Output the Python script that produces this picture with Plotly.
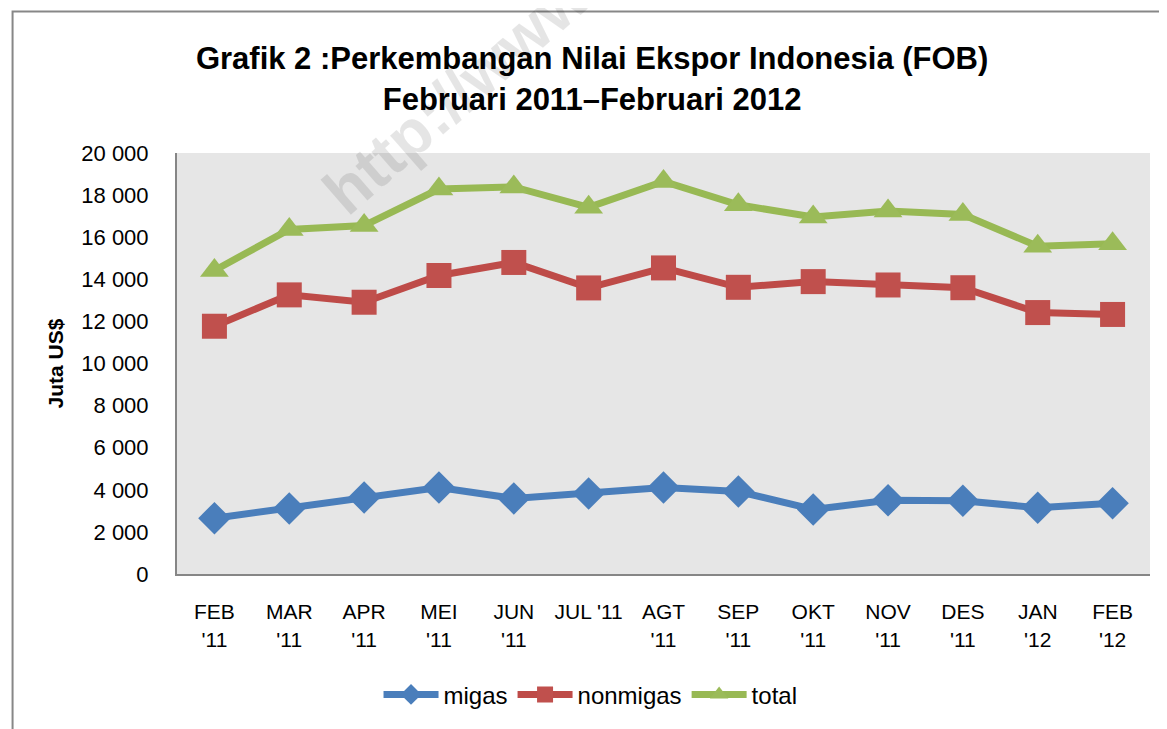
import plotly.graph_objects as go

categories = ["FEB<br>'11", "MAR<br>'11", "APR<br>'11", "MEI<br>'11", "JUN<br>'11", "JUL '11",
              "AGT<br>'11", "SEP<br>'11", "OKT<br>'11", "NOV<br>'11", "DES<br>'11", "JAN<br>'12", "FEB<br>'12"]
migas = [2650, 3110, 3640, 4110, 3590, 3830, 4110, 3920, 3070, 3500, 3480, 3150, 3360]
nonmigas = [11770, 13260, 12910, 14180, 14800, 13590, 14540, 13620, 13890, 13730, 13600, 12420, 12330]
total = [14420, 16370, 16550, 18290, 18390, 17420, 18650, 17540, 16960, 17240, 17080, 15570, 15690]
yticks = [0, 2000, 4000, 6000, 8000, 10000, 12000, 14000, 16000, 18000, 20000]
yticklabels = ["0", "2 000", "4 000", "6 000", "8 000", "10 000", "12 000", "14 000", "16 000", "18 000", "20 000"]

FONT = "Liberation Sans"
x = list(range(len(categories)))

fig = go.Figure()
fig.add_trace(go.Scatter(x=x, y=migas, name="migas", mode="lines+markers",
                         line=dict(color="#4A7EBB", width=7),
                         marker=dict(symbol="diamond", size=25, color="#4A7EBB")))
fig.add_trace(go.Scatter(x=x, y=nonmigas, name="nonmigas", mode="lines+markers",
                         line=dict(color="#BE4B48", width=7),
                         marker=dict(symbol="square", size=25, color="#C0504D")))
fig.add_trace(go.Scatter(x=x, y=total, name="total", mode="lines+markers",
                         line=dict(color="#98B954", width=7),
                         marker=dict(symbol="triangle-up", size=25, color="#9BBB59")))

fig.update_layout(
    width=1159, height=721,
    paper_bgcolor="white", plot_bgcolor="#E6E6E6",
    margin=dict(l=169, r=17, t=145, b=153),
    font=dict(family=FONT, size=21, color="black"),
    title=dict(text="<b>Grafik 2 :Perkembangan Nilai Ekspor Indonesia (FOB)<br>Februari 2011–Februari 2012</b>",
               x=0.504, xanchor="center", y=0.915, yanchor="middle",
               font=dict(family=FONT, size=31, color="black")),
    xaxis=dict(range=[-0.5, 12.5], tickmode="array", tickvals=x, ticktext=categories,
               showgrid=False, zeroline=False, showline=True, linecolor="#868686", linewidth=2,
               ticks="", tickfont=dict(size=21), ticklabelstandoff=18),
    yaxis=dict(range=[0, 20000], tickmode="array", tickvals=yticks, ticktext=yticklabels,
               showgrid=False, zeroline=False, showline=True, linecolor="#868686", linewidth=2,
               ticks="", tickfont=dict(size=22), ticklabelstandoff=22,
               title=dict(text="<b>Juta US$</b>", font=dict(size=21), standoff=12)),
    legend=dict(orientation="h", x=0.425, xanchor="center", y=-0.287, yanchor="middle",
                font=dict(size=24), itemwidth=55, bgcolor="rgba(0,0,0,0)"),
    showlegend=True,
)

fig.add_shape(type="rect", xref="paper", yref="paper",
              x0=-0.169, x1=1.1, y0=-0.5, y1=1.336,
              line=dict(color="#878787", width=2), fillcolor="rgba(0,0,0,0)", layer="below")

fig.add_annotation(text="<b>http://www</b>", xref="paper", yref="paper", x=0.287, y=1.14,
                   xanchor="center", yanchor="middle",
                   showarrow=False, textangle=-41, font=dict(size=64, color="rgba(0,0,0,0.1)"))

fig.write_html("out.html")
